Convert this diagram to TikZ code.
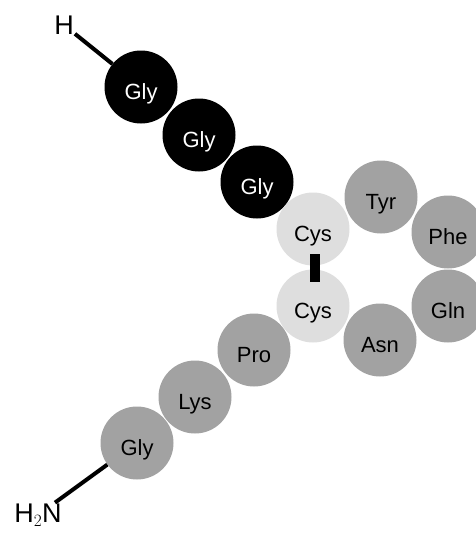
\documentclass[tikz,border=0pt]{standalone}
\usepackage{fontspec}
\setmainfont{Liberation Sans}
\usetikzlibrary{calc}
\definecolor{resgray}{HTML}{A2A2A2}
\definecolor{cysgray}{HTML}{DEDEDE}
\begin{document}
\begin{tikzpicture}[x=1pt,y=-1pt,
  res/.style={circle,minimum size=73pt,inner sep=0pt,fill=resgray,text=black,
    text height=24pt,text depth=0pt,
    font=\fontsize{22}{26}\selectfont},
  glyb/.style={res,fill=black,text=white},
  cys/.style={res,fill=cysgray},
  term/.style={inner sep=1pt,font=\fontsize{27}{32}\selectfont},
  bond/.style={line width=4pt,black},
  ssbond/.style={line width=10pt,black}]
\useasboundingbox (0,0) rectangle (475,533);
\node[term] (H) at (64,25) {H};
\node[glyb] (g1) at (141,87) {Gly};
\node[glyb] (g2) at (199,135) {Gly};
\node[glyb] (g3) at (257,182) {Gly};
\node[cys] (c1) at (313,229) {Cys};
\node[res] (tyr) at (381,197) {Tyr};
\node[res] (phe) at (448,232) {Phe};
\node[res] (gln) at (448,306) {Gln};
\node[res] (asn) at (380,340) {Asn};
\node[cys] (c2) at (313,306) {Cys};
\node[res] (pro) at (254,350) {Pro};
\node[res] (lys) at (195,397) {Lys};
\node[res] (g4) at (137,443) {Gly};
\node[term] (N) at (38,515) {H$_2$N};
\draw[bond] (H) -- (g1);
\draw[bond] (N) -- (g4);
\draw[ssbond] ($(c1.center)+(2,25)$) -- ($(c2.center)+(2,-24)$);
\end{tikzpicture}
\end{document}
